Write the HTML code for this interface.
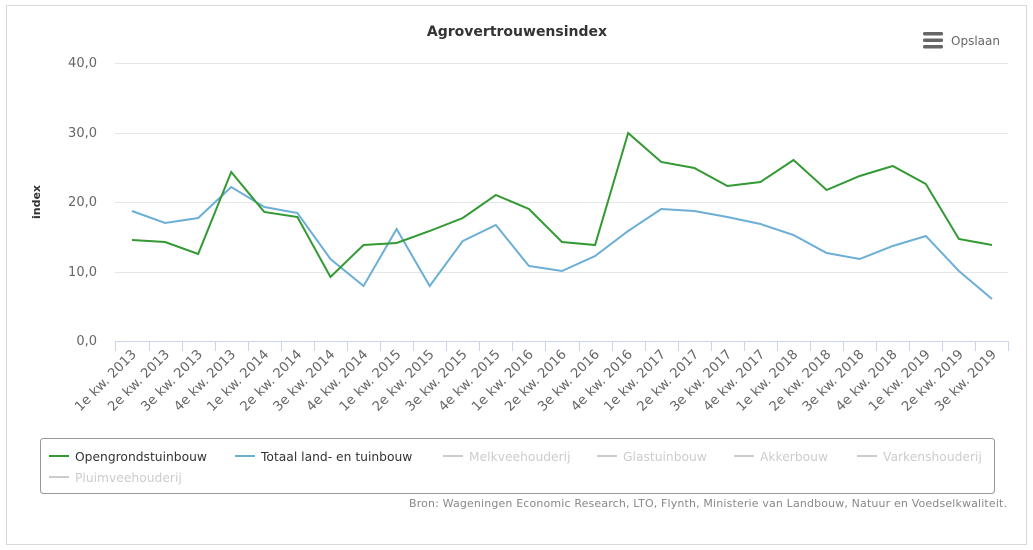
<!DOCTYPE html>
<html><head><meta charset="utf-8"><style>
body{margin:0;background:#fff;}
svg{display:block;font-family:"DejaVu Sans","Liberation Sans",sans-serif;}
</style></head><body>
<svg width="1033" height="550" viewBox="0 0 1033 550">
<rect x="6.5" y="5.5" width="1020" height="539" fill="#fff" stroke="#d8d8d8"/>
<text x="517" y="36" text-anchor="middle" font-size="14" font-weight="bold" fill="#333">Agrovertrouwensindex</text>
<g fill="#666"><rect x="923" y="32" width="20" height="3.5" rx="1.5"/><rect x="923" y="38.5" width="20" height="3.5" rx="1.5"/><rect x="923" y="45" width="20" height="3.5" rx="1.5"/></g>
<text x="951" y="45" font-size="12" fill="#666">Opslaan</text>
<g stroke="#e6e6e6" stroke-width="1">
<line x1="115" y1="63.5" x2="1008" y2="63.5"/><line x1="115" y1="133.5" x2="1008" y2="133.5"/><line x1="115" y1="202.5" x2="1008" y2="202.5"/><line x1="115" y1="272.5" x2="1008" y2="272.5"/>
</g>
<line x1="115" y1="341.5" x2="1008" y2="341.5" stroke="#ccd6eb"/>
<g font-size="13" fill="#666" text-anchor="end">
<text x="97" y="67">40,0</text><text x="97" y="137">30,0</text><text x="97" y="206">20,0</text><text x="97" y="276">10,0</text><text x="97" y="345">0,0</text>
</g>
<text transform="translate(40,202) rotate(-90)" text-anchor="middle" font-size="11" font-weight="bold" fill="#333">index</text>
<g id="ticks" stroke="#ccd6eb"></g>
<g id="labels" font-size="13.3" fill="#666" text-anchor="end"></g>
<polyline id="blue" fill="none" stroke="#6baed6" stroke-width="2" points=""/>
<polyline id="green" fill="none" stroke="#339933" stroke-width="2" points=""/>
<rect x="40.5" y="438.5" width="954" height="55" rx="3" fill="#fff" stroke="#999"/>
<g font-size="12.3">
<line x1="49" y1="456" x2="69" y2="456" stroke="#339933" stroke-width="2"/><text x="75" y="461" fill="#333">Opengrondstuinbouw</text>
<line x1="235" y1="456" x2="255" y2="456" stroke="#6baed6" stroke-width="2"/><text x="261" y="461" fill="#333">Totaal land- en tuinbouw</text>
<line x1="443" y1="456" x2="463" y2="456" stroke="#ccc" stroke-width="2"/><text x="469" y="461" fill="#ccc">Melkveehouderij</text>
<line x1="597" y1="456" x2="617" y2="456" stroke="#ccc" stroke-width="2"/><text x="623" y="461" fill="#ccc">Glastuinbouw</text>
<line x1="734" y1="456" x2="754" y2="456" stroke="#ccc" stroke-width="2"/><text x="760" y="461" fill="#ccc">Akkerbouw</text>
<line x1="857" y1="456" x2="877" y2="456" stroke="#ccc" stroke-width="2"/><text x="883" y="461" fill="#ccc">Varkenshouderij</text>
<line x1="49" y1="477" x2="69" y2="477" stroke="#ccc" stroke-width="2"/><text x="75" y="482" fill="#ccc">Pluimveehouderij</text>
</g>
<text x="1007" y="507" text-anchor="end" font-size="11" fill="#888" textLength="598">Bron: Wageningen Economic Research, LTO, Flynth, Ministerie van Landbouw, Natuur en Voedselkwaliteit.</text>
</svg>
<script>
var g=[240,242,254,172,212,217,277,245,243,231,218,195,209,242,245,133,162,168,186,182,160,190,176,166,184,239,245];
var b=[211,223,218,187,207,213,259,286,229,286,241,225,266,271,256,231,209,211,217,224,235,253,259,246,236,271,299];
var cats=[];for(var y=2013;y<=2019;y++)for(var q=1;q<=4;q++)cats.push(q+"e kw. "+y);cats=cats.slice(0,27);
var step=(992-132)/26,ns="http://www.w3.org/2000/svg";
var gp=[],bp=[],T=document.getElementById("ticks"),L=document.getElementById("labels");
for(var i=0;i<27;i++){var x=132+i*step;gp.push(x+","+g[i]);bp.push(x+","+b[i]);
var t=document.createElementNS(ns,"line");var tx=Math.round(x-step/2)+.5;t.setAttribute("x1",tx);t.setAttribute("x2",tx);t.setAttribute("y1",341);t.setAttribute("y2",351);T.appendChild(t);
var s=document.createElementNS(ns,"text");s.setAttribute("transform","translate("+(x+5)+",355) rotate(-45)");s.textContent=cats[i];L.appendChild(s);}
var t=document.createElementNS(ns,"line");t.setAttribute("x1",1008.5);t.setAttribute("x2",1008.5);t.setAttribute("y1",341);t.setAttribute("y2",351);T.appendChild(t);
document.getElementById("green").setAttribute("points",gp.join(" "));
document.getElementById("blue").setAttribute("points",bp.join(" "));
</script>
</body></html>
